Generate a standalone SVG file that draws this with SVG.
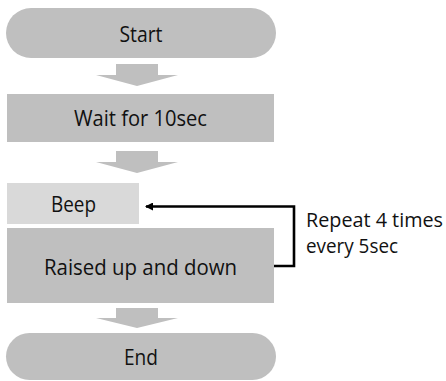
<svg xmlns="http://www.w3.org/2000/svg" width="446" height="381" viewBox="0 0 446 381">
  <defs>
    <style>
      .node { fill: #bfbfbf; }
      .light { fill: #d9d9d9; }
      .flow { fill: #bfbfbf; }
      .label { font-family: "Open Sans", "Noto Sans", sans-serif; font-size: 22px; fill: #111; }
      .note { font-size: 20px; }
      .mid { text-anchor: middle; }
      .link { fill: none; stroke: #000; stroke-width: 2.6; }
    </style>
    <marker id="head" viewBox="0 0 8 8" refX="7" refY="4" markerWidth="8" markerHeight="8" markerUnits="userSpaceOnUse" orient="auto">
      <path d="M0,0 L8,4 L0,8 z" fill="#000"/>
    </marker>
  </defs>

  <rect width="446" height="381" fill="#fff"/>

  <g id="start">
    <rect class="node" x="6" y="8" width="270" height="50" rx="25"/>
    <text class="label mid" x="141" y="42" textLength="43" lengthAdjust="spacingAndGlyphs">Start</text>
  </g>

  <g id="wait">
    <rect class="node" x="7" y="94" width="267" height="48"/>
    <text class="label mid" x="140.5" y="126" textLength="133" lengthAdjust="spacingAndGlyphs">Wait for 10sec</text>
  </g>

  <g id="beep">
    <rect class="light" x="7" y="183" width="132" height="41"/>
    <text class="label mid" x="73.5" y="212" textLength="45" lengthAdjust="spacingAndGlyphs">Beep</text>
  </g>

  <g id="raise">
    <rect class="node" x="7" y="228" width="267" height="75"/>
    <text class="label mid" x="140.5" y="275" textLength="193" lengthAdjust="spacingAndGlyphs">Raised up and down</text>
  </g>

  <g id="end">
    <rect class="node" x="6" y="333" width="270" height="47" rx="23.5"/>
    <text class="label mid" x="141" y="365" textLength="34" lengthAdjust="spacingAndGlyphs">End</text>
  </g>

  <g id="connectors">
    <polygon class="flow" points="116,64 158,64 158,75 178,75 137,86 96,75 116,75"/>
    <polygon class="flow" points="116,151 158,151 158,162 178,162 137,173 96,162 116,162"/>
    <polygon class="flow" points="116,308 158,308 158,318 178,318 137,328 96,318 116,318"/>
    <polyline class="link" points="274,266 294,266 294,206.5 146,206.5" marker-end="url(#head)"/>
  </g>

  <g id="repeat-note">
    <text class="label note" x="306" y="227" textLength="137" lengthAdjust="spacingAndGlyphs">Repeat 4 times</text>
    <text class="label note" x="306" y="253" textLength="92" lengthAdjust="spacingAndGlyphs">every 5sec</text>
  </g>
</svg>
